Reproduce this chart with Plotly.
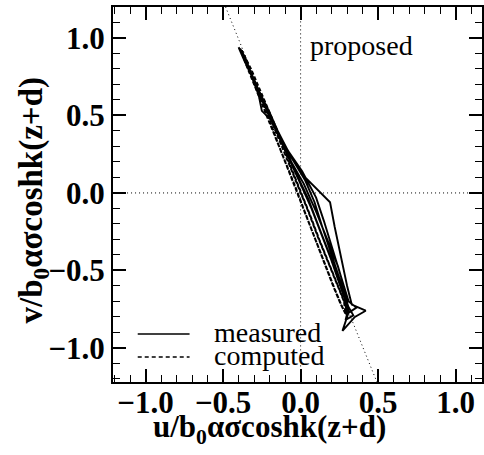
import plotly.graph_objects as go

# measured hodograph (several wave cycles)
meas_u = [-0.39, -0.36, -0.31, -0.25, -0.19, -0.12, -0.05, 0.03, 0.12, 0.19, 0.22, 0.26, 0.30, 0.33, 0.42, 0.35, 0.27, 0.31,
          0.29, 0.24, 0.17, 0.10, 0.02, -0.06, -0.13, -0.20, -0.26, -0.32, -0.37, -0.40,
          -0.37, -0.30, -0.24, -0.20, -0.15, -0.08, 0.01, 0.10, 0.15, 0.21, 0.27, 0.31, 0.36, 0.30,
          0.29, 0.24, 0.18, 0.11, 0.05, -0.03, -0.11, -0.18, -0.25, -0.27, -0.33, -0.38,
          -0.36, -0.29, -0.22, -0.14, -0.06, 0.03, 0.09, 0.14, 0.20, 0.26, 0.30, 0.34, 0.29,
          0.31, 0.27, 0.21, 0.14, 0.07, -0.01, -0.09, -0.17, -0.24, -0.31, -0.38]
meas_v = [0.93, 0.86, 0.74, 0.60, 0.47, 0.34, 0.22, 0.10, 0.01, -0.06, -0.22, -0.42, -0.60, -0.72, -0.76, -0.80, -0.89, -0.77,
          -0.64, -0.47, -0.30, -0.12, 0.06, 0.20, 0.36, 0.52, 0.64, 0.78, 0.89, 0.94,
          0.87, 0.72, 0.58, 0.49, 0.40, 0.27, 0.14, -0.03, -0.18, -0.38, -0.58, -0.70, -0.74, -0.78,
          -0.70, -0.55, -0.38, -0.20, -0.04, 0.13, 0.30, 0.46, 0.53, 0.63, 0.79, 0.91,
          0.88, 0.70, 0.54, 0.38, 0.23, 0.08, -0.06, -0.22, -0.40, -0.58, -0.72, -0.79, -0.82,
          -0.74, -0.62, -0.46, -0.28, -0.10, 0.08, 0.25, 0.42, 0.58, 0.75, 0.92]

# computed hodograph
comp_u = [-0.39, -0.34, -0.28, -0.21, -0.15, -0.08, -0.02, 0.04, 0.10, 0.16, 0.22, 0.27, 0.30,
          0.29, 0.24, 0.18, 0.12, 0.06, 0.00, -0.06, -0.12, -0.19, -0.26, -0.32, -0.38,
          -0.36, -0.30, -0.23, -0.16, -0.09, -0.03, 0.03, 0.09, 0.15, 0.21, 0.26, 0.29,
          0.28, 0.23, 0.17, 0.11, 0.05, -0.01, -0.07, -0.14, -0.21, -0.28, -0.34, -0.39]
comp_v = [0.93, 0.82, 0.67, 0.50, 0.33, 0.15, 0.00, -0.16, -0.32, -0.47, -0.62, -0.74, -0.79,
          -0.72, -0.60, -0.45, -0.30, -0.14, 0.01, 0.16, 0.33, 0.50, 0.66, 0.80, 0.92,
          0.85, 0.70, 0.53, 0.36, 0.18, 0.03, -0.13, -0.29, -0.44, -0.60, -0.72, -0.78,
          -0.70, -0.58, -0.43, -0.28, -0.12, 0.03, 0.18, 0.35, 0.52, 0.68, 0.82, 0.93]

# proposed relation v = -2.48 u
prop_u = [-0.6, 0.6]
prop_slope = -2.48

legend_names = ["measured", "computed"]

SERIF = "Liberation Serif, Times New Roman, serif"

fig = go.Figure()
dot = dict(color="black", width=1, dash="1px,3px")
fig.add_trace(go.Scatter(x=[-1.3, 1.3], y=[0, 0], mode="lines", line=dot, showlegend=False, hoverinfo="skip"))
fig.add_trace(go.Scatter(x=[0, 0], y=[-1.3, 1.3], mode="lines", line=dot, showlegend=False, hoverinfo="skip"))
fig.add_trace(go.Scatter(x=prop_u, y=[prop_slope * u for u in prop_u], mode="lines", line=dot,
                         showlegend=False, hoverinfo="skip"))
fig.add_trace(go.Scatter(x=comp_u, y=comp_v, mode="lines", name=legend_names[1], showlegend=False,
                         line=dict(color="black", width=2, dash="4px,2px")))
fig.add_trace(go.Scatter(x=meas_u, y=meas_v, mode="lines", name=legend_names[0], showlegend=False,
                         line=dict(color="black", width=1.9)))

fig.add_annotation(x=0.05, y=0.95, xref="x", yref="y", text="proposed", showarrow=False,
                   xanchor="left", yanchor="middle",
                   font=dict(family=SERIF, size=28, color="black"))

# legend drawn inside the axes
fig.add_shape(type="line", xref="paper", yref="paper", x0=0.067, x1=0.2075, y0=0.128, y1=0.128,
              line=dict(color="black", width=1.5))
fig.add_shape(type="line", xref="paper", yref="paper", x0=0.067, x1=0.2075, y0=0.0667, y1=0.0667,
              line=dict(color="black", width=1.5, dash="4px,3px"))
fig.add_annotation(x=0.2695, y=0.132, xref="paper", yref="paper", text=legend_names[0], showarrow=False,
                   xanchor="left", yanchor="middle", font=dict(family=SERIF, size=28, color="black"))
fig.add_annotation(x=0.2695, y=0.071, xref="paper", yref="paper", text=legend_names[1], showarrow=False,
                   xanchor="left", yanchor="middle", font=dict(family=SERIF, size=28, color="black"))

# axis titles
fig.add_annotation(x=0.423, y=-0.125, xref="paper", yref="paper",
                   text="u/b<sub>0</sub>\u03b1\u03c3coshk(z+d)", showarrow=False,
                   xanchor="center", yanchor="middle",
                   font=dict(family=SERIF, size=31, color="black", weight="bold"))
fig.add_annotation(x=-0.216, y=0.485, xref="paper", yref="paper", textangle=-90,
                   text="v/b<sub>0</sub>\u03b1\u03c3coshk(z+d)", showarrow=False,
                   xanchor="center", yanchor="middle",
                   font=dict(family=SERIF, size=33, color="black", weight="bold"))

axis_common = dict(
    tickmode="linear", tick0=0, dtick=0.5, tickformat=".1f",
    ticks="inside", ticklen=13, tickwidth=1.5,
    tickcolor="black", showline=True, linecolor="black", linewidth=2, mirror="allticks",
    showgrid=False, zeroline=False,
    tickfont=dict(family=SERIF, size=31, color="black", weight="bold"),
    minor=dict(dtick=0.1, tick0=0, ticks="inside", ticklen=7, tickwidth=1, tickcolor="black", showgrid=False),
)

fig.update_layout(
    width=484, height=455,
    margin=dict(l=113, r=0, t=7, b=73),
    plot_bgcolor="white", paper_bgcolor="white",
    xaxis=dict(range=[-1.21, 1.17], ticklabelstandoff=-8, **axis_common),
    yaxis=dict(range=[-1.22, 1.2], **axis_common),
    showlegend=False,
)

fig.write_html("out.html")
